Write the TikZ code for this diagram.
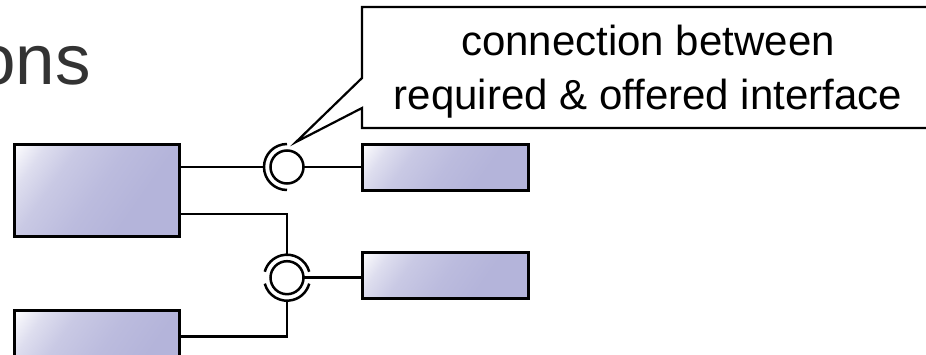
\documentclass[tikz,border=0pt]{standalone}
\usepackage{fontspec}
\setmainfont{Liberation Sans}
\definecolor{lav}{RGB}{180,180,218}
\definecolor{titlegray}{RGB}{51,51,51}
\pgfdeclarehorizontalshading{boxfill}{100bp}{color(0bp)=(white); color(15bp)=(white); color(25bp)=(lav!45); color(35bp)=(lav!72); color(50bp)=(lav!90); color(65bp)=(lav); color(100bp)=(lav)}

\begin{document}
\begin{tikzpicture}[x=1pt,y=1pt,
  comp/.style={draw=black, line width=3pt, shading=boxfill, shading angle=-35,
    rectangle, inner sep=0pt, outer sep=0pt, anchor=north west},
  ball/.style={circle, draw=black, line width=2.5pt, fill=white,
    minimum size=33pt, inner sep=0pt, outer sep=0pt},
  conn/.style={draw=black, line width=2.5pt},
  callout/.style={draw=black, line width=2.2pt, fill=white, line join=miter},
  note/.style={inner sep=0pt, anchor=base, font=\fontsize{42}{50}\selectfont},
  heading/.style={inner sep=0pt, anchor=base east, text=titlegray,
    font=\fontsize{71}{80}\selectfont}]
\clip (0,0) rectangle (926,-355);

% heading fragment
\node[heading] (title) at (91,-85) {ons};

% components
\node[comp, minimum width=165pt, minimum height=92pt] (A) at (14,-145) {};
\node[comp, minimum width=165pt, minimum height=92pt] (B) at (14,-310.7) {};
\node[comp, minimum width=166pt, minimum height=46pt] (C) at (362,-145) {};
\node[comp, minimum width=166pt, minimum height=45.5pt] (D) at (362,-252.7) {};

% provided interfaces (balls)
\node[ball] (b1) at (287,-167) {};
\node[ball] (b2) at (287,-277.7) {};

% bend points of the required-interface wires
\coordinate (aj) at (0,-214);
\coordinate (bj) at (0,-336.7);

% first assembly: A requires, C provides
\draw[conn] (A.east |- b1) -- ([xshift=-23pt]b1.center);
\draw[conn] (b1.center) ++(90:23) arc[start angle=90, end angle=270, radius=23];
\draw[conn] (b1.east) -- (C.west |- b1);

% second assembly: A and B require, D provides
\draw[conn] (A.east |- aj) -| ([yshift=23pt]b2.center);
\draw[conn] (B.east |- bj) -| ([yshift=-23pt]b2.center);
\draw[conn] (b2.center) ++(15:23) arc[start angle=15, end angle=165, radius=23];
\draw[conn] (b2.center) ++(195:23) arc[start angle=195, end angle=345, radius=23];
\draw[conn] (b2.east) -- (D.west |- b2);

% callout
\coordinate (tip) at (296,-142);
\draw[callout] (362,-78) -- (362,-7) -- (940,-7) -- (940,-128) -- (362,-128)
  -- (362,-108) -- (tip) -- cycle;
\node[note] (n1) at (648,-56) {connection between};
\node[note] (n2) at (648,-110) {required \& offered interface};
\end{tikzpicture}
\end{document}
